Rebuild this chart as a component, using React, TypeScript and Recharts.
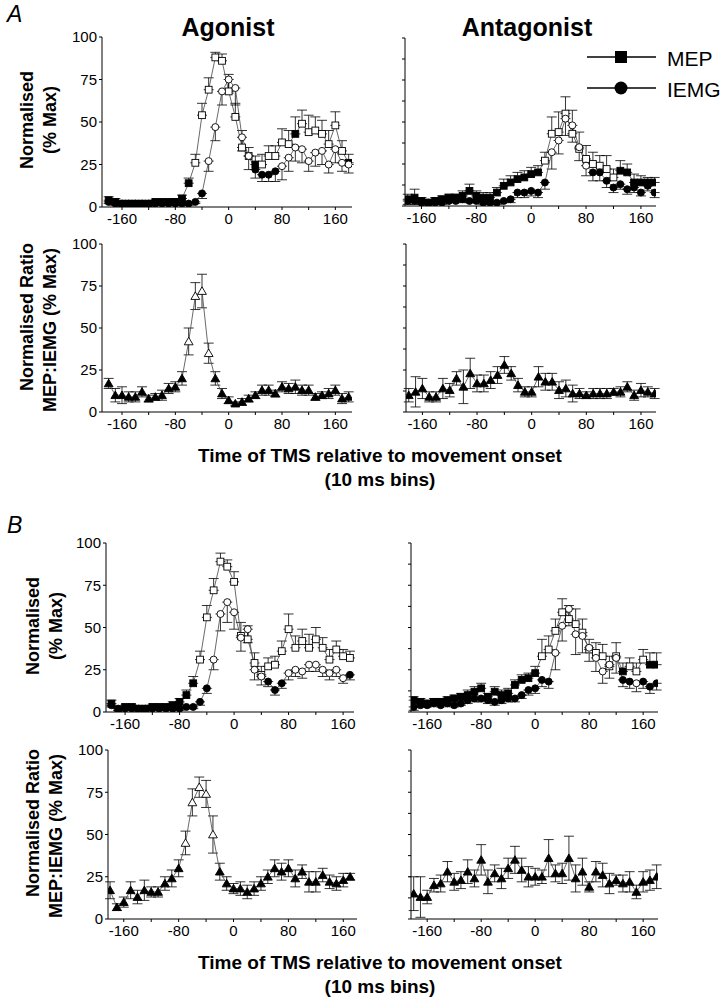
import React from 'react';
import { LineChart, Line, XAxis, YAxis, ErrorBar } from 'recharts';

const FONT = '"Liberation Sans", Arial, Helvetica, sans-serif';

// x categories (10 ms bins)
const X37 = [-180,-170,-160,-150,-140,-130,-120,-110,-100,-90,-80,-70,-60,-50,-40,-30,-20,-10,0,10,20,30,40,50,60,70,80,90,100,110,120,130,140,150,160,170,180];
const X36 = [-180,-170,-160,-150,-140,-130,-120,-110,-100,-90,-80,-70,-60,-50,-40,-30,-20,-10,0,10,20,30,40,50,60,70,80,90,100,110,120,130,140,150,160,170];
const X_TICKS = [-160,-120,-80,-40,0,40,80,120,160];

// ---------- A : Agonist ----------
const A_AGO_MEP = [4,3,2,2,2,2,2,3,3,3,3,5,14,26,54,69,88,86,68,53,35,30,25,25,30,30,38,37,43,49,44,45,43,37,48,33,26];
const A_AGO_MEP_ERR = [2,2,1,1,1,1,1,1,1,1,2,2,3,5,7,7,3,4,10,8,10,5,5,6,6,6,8,8,10,8,10,8,8,8,8,6,5];
const A_AGO_MEP_OPEN = [0,0,0,0,0,0,0,0,0,0,0,0,0,1,1,1,1,1,1,1,1,1,0,1,1,1,1,1,0,1,1,1,1,1,1,1,0];
const A_AGO_IEMG = [3,2,2,2,2,2,2,2,2,2,2,2,2,3,8,27,47,68,75,70,41,30,22,19,19,21,24,29,35,34,27,32,33,25,34,26,25];
const A_AGO_IEMG_ERR = [1,1,1,1,1,1,1,1,1,1,1,1,1,1,3,6,8,8,8,10,8,8,5,4,4,6,8,8,8,8,6,8,8,5,8,5,5];
const A_AGO_IEMG_OPEN = [0,0,0,0,0,0,0,0,0,0,0,0,0,0,0,1,1,1,1,1,1,1,0,0,0,0,1,1,1,1,1,1,1,1,1,1,1];

// ---------- A : Antagonist ----------
const A_ANT_MEP = [4,5,3,2,3,4,5,5,6,9,6,5,5,8,12,14,16,17,19,20,27,43,44,55,43,34,28,25,24,22,17,21,20,14,14,14,14];
const A_ANT_MEP_ERR = [3,5,2,2,2,2,2,2,3,4,3,3,3,3,4,4,4,4,4,4,5,10,12,10,14,10,8,7,6,8,5,6,5,5,4,3,3];
const A_ANT_MEP_OPEN = [0,0,0,0,0,0,0,0,0,0,0,0,0,0,0,0,0,0,0,0,1,1,1,1,1,1,1,1,1,1,1,0,0,0,0,0,0];
const A_ANT_IEMG = [3,3,2,2,2,2,3,3,4,3,3,2,2,2,3,4,8,8,9,8,14,32,39,52,48,35,24,20,20,15,11,13,10,11,8,12,8];
const A_ANT_IEMG_ERR = [2,2,1,1,1,1,1,1,2,1,1,1,1,1,1,2,3,3,3,3,4,10,8,10,10,8,6,5,5,4,3,3,3,3,2,3,3];
const A_ANT_IEMG_OPEN = [0,0,0,0,0,0,0,0,0,0,0,0,0,0,0,0,0,0,0,0,0,1,1,1,1,1,1,0,0,0,0,0,0,0,0,0,0];

// ---------- A : Ratios ----------
const A_AGO_RATIO = [17,10,10,9,9,12,8,9,10,14,15,20,42,69,72,35,20,11,7,5,6,8,10,13,13,11,15,14,15,13,13,9,10,11,13,8,9];
const A_AGO_RATIO_ERR = [3,4,5,3,3,3,2,2,3,3,3,4,8,8,10,6,4,3,2,1,2,2,2,3,3,2,3,3,4,3,3,2,2,3,3,3,3];
const A_AGO_RATIO_OPEN = [0,0,0,0,0,0,0,0,0,0,0,0,1,1,1,1,0,0,0,0,0,0,0,0,0,0,0,0,0,0,0,0,0,0,0,0,0];
const A_ANT_RATIO = [10,12,14,9,9,14,13,20,15,23,17,17,19,22,28,23,16,12,12,21,18,18,13,14,11,11,10,11,11,11,12,12,15,10,13,12,11];
const A_ANT_RATIO_ERR = [4,9,6,3,3,6,4,4,10,9,5,5,5,5,5,4,4,3,3,6,5,5,5,5,5,3,2,3,3,3,2,3,3,3,4,3,3];
const A_ANT_RATIO_OPEN = [0,0,0,0,0,0,0,0,0,0,0,0,0,0,0,0,0,0,0,0,0,0,0,0,0,0,0,0,0,0,0,0,0,0,0,0,0];

// ---------- B : Agonist ----------
const B_AGO_MEP = [5,1,3,3,2,2,3,3,3,4,6,10,17,31,56,72,89,86,77,45,43,29,22,27,28,36,49,38,42,38,43,38,31,37,33,32];
const B_AGO_MEP_ERR = [2,1,1,1,1,1,1,1,1,2,2,3,4,5,7,7,5,4,6,8,8,6,5,5,5,6,9,7,7,8,7,6,6,5,4,4];
const B_AGO_MEP_OPEN = [0,0,0,0,0,0,0,0,0,0,0,0,0,1,1,1,1,1,1,1,1,1,1,1,1,1,1,1,1,1,1,1,1,1,1,1];
const B_AGO_IEMG = [4,2,2,2,2,2,2,2,2,2,2,3,3,6,14,31,58,65,59,44,49,25,21,18,13,17,23,25,24,28,28,25,23,25,20,22];
const B_AGO_IEMG_ERR = [1,1,1,1,1,1,1,1,1,1,1,1,1,2,3,6,10,12,10,8,8,6,5,3,3,3,4,4,4,4,4,4,4,4,3,3];
const B_AGO_IEMG_OPEN = [0,0,0,0,0,0,0,0,0,0,0,0,0,0,0,1,1,1,1,1,1,1,1,0,0,0,1,1,1,1,1,1,1,1,1,0];

// ---------- B : Antagonist ----------
const B_ANT_MEP = [7,6,5,6,6,7,8,9,10,12,14,9,12,10,11,16,19,20,23,33,37,48,59,55,52,47,37,35,33,27,33,24,27,24,31,28,28];
const B_ANT_MEP_ERR = [2,2,2,2,2,2,2,2,3,3,3,2,3,3,3,3,3,3,4,10,8,7,8,8,9,8,6,6,7,6,8,5,5,5,6,7,7];
const B_ANT_MEP_OPEN = [0,0,0,0,0,0,0,0,0,0,0,0,0,0,0,0,0,0,0,1,1,1,1,1,1,1,1,1,1,1,1,0,1,1,1,0,0];
const B_ANT_IEMG = [3,4,4,5,4,5,4,5,7,8,8,7,6,7,8,8,10,13,14,19,18,35,51,61,46,45,38,32,24,28,32,19,18,17,18,15,17];
const B_ANT_IEMG_ERR = [2,1,1,1,1,1,1,1,2,2,2,2,2,2,2,2,2,3,3,4,4,10,9,10,12,10,8,8,7,8,9,4,4,5,4,4,4];
const B_ANT_IEMG_OPEN = [0,0,0,0,0,0,0,0,0,0,0,0,0,0,0,0,0,0,0,0,0,1,1,1,1,1,1,1,1,1,1,0,0,1,0,0,0];

// ---------- B : Ratios ----------
const B_AGO_RATIO = [17,7,10,17,13,17,16,16,21,24,30,45,69,78,74,50,28,21,18,18,16,18,21,25,30,28,30,24,28,22,22,26,22,21,23,25];
const B_AGO_RATIO_ERR = [5,2,3,5,4,6,3,3,4,5,5,7,8,6,8,11,5,4,3,4,4,4,4,4,5,5,5,5,4,6,6,4,4,4,4,2];
const B_AGO_RATIO_OPEN = [0,0,0,0,0,0,0,0,0,0,0,1,1,1,1,1,0,0,0,0,0,0,0,0,0,0,0,0,0,0,0,0,0,0,0,0];
const B_ANT_RATIO = [15,13,13,20,21,28,22,23,28,24,35,22,27,24,30,35,29,25,25,25,36,27,27,36,24,28,19,28,26,21,23,21,22,16,22,23,25];
const B_ANT_RATIO_ERR = [10,12,4,4,5,6,5,5,7,5,9,7,5,6,6,8,7,6,5,4,11,5,6,13,8,8,3,6,7,6,3,5,6,4,6,6,7];
const B_ANT_RATIO_OPEN = [0,0,0,0,0,0,0,0,0,0,0,0,0,0,0,0,0,0,0,0,0,0,0,0,0,0,0,0,0,0,0,0,0,0,0,0,0];

type Shape = 'square' | 'circle' | 'triangle';
type Dir = 'up' | 'down' | 'both';
type Series = { values: number[]; errs: number[]; open: number[]; shape: Shape; dir: Dir };

function buildRows(xs: number[], series: Series[]) {
  return xs.map((x, i) => {
    const row: any = { x };
    series.forEach((s, k) => {
      row[`v${k}`] = s.values[i];
      const e = s.errs[i];
      row[`e${k}`] = s.dir === 'up' ? [0, e] : s.dir === 'down' ? [e, 0] : [e, e];
      row[`o${k}`] = s.open[i];
    });
    return row;
  });
}

function makeDot(shape: Shape, k: number) {
  return (p: any) => {
    const { cx, cy, index, payload } = p;
    const key = `d${k}-${index}`;
    if (cx == null || cy == null || isNaN(cx) || isNaN(cy)) return <g key={key} />;
    const fill = payload && payload[`o${k}`] ? '#fff' : '#000';
    if (shape === 'square') {
      const h = 3.4;
      return <rect key={key} x={cx - h} y={cy - h} width={2 * h} height={2 * h} fill={fill} stroke="#000" strokeWidth={0.9} />;
    }
    if (shape === 'circle') {
      return <circle key={key} cx={cx} cy={cy} r={3.5} fill={fill} stroke="#000" strokeWidth={0.9} />;
    }
    const w = 4.4, h = 4.2;
    return <polygon key={key} points={`${cx},${cy - h} ${cx + w},${cy + h * 0.8} ${cx - w},${cy + h * 0.8}`} fill={fill} stroke="#000" strokeWidth={0.9} />;
  };
}

type PanelProps = {
  left: number; right: number; top: number; bottom: number;
  domain: [number, number]; xs: number[]; series: Series[]; yLabels: boolean;
};

function Panel({ left, right, top, bottom, domain, xs, series, yLabels }: PanelProps) {
  const rows = buildRows(xs, series);
  const ml = 5, yw = 40, mt = 10, mr = 10, xh = 30;
  const w = right - left + ml + yw + mr;
  const h = bottom - top + mt + xh;
  const tickStyle = { fill: '#000', fontSize: 15, fontFamily: FONT };
  return (
    <div style={{ position: 'absolute', left: left - ml - yw, top: top - mt }}>
      <LineChart width={w} height={h} data={rows} margin={{ top: mt, right: mr, bottom: 0, left: ml }}>
        <XAxis
          type="number" dataKey="x" domain={domain} allowDataOverflow
          ticks={X_TICKS} interval={0}
          tickFormatter={(v: number) => (v % 80 === 0 ? String(v) : '')}
          tick={tickStyle} tickSize={3} tickMargin={3} height={xh}
          axisLine={{ stroke: '#000', strokeWidth: 1 }} tickLine={{ stroke: '#000' }}
        />
        <YAxis
          type="number" domain={[0, 100]} allowDataOverflow width={yw}
          ticks={yLabels ? [0, 25, 50, 75, 100] : [0, 12.5, 25, 37.5, 50, 62.5, 75, 87.5, 100]}
          interval={0}
          tickFormatter={(v: number) => (yLabels ? String(v) : '')}
          tick={tickStyle} tickSize={3} tickMargin={2}
          axisLine={{ stroke: '#000', strokeWidth: 1 }} tickLine={{ stroke: '#000' }}
        />
        {series.map((s, k) => (
          <Line
            key={k} type="linear" dataKey={`v${k}`} stroke="#444" strokeWidth={0.8}
            dot={makeDot(s.shape, k)} activeDot={false} isAnimationActive={false}
          >
            <ErrorBar dataKey={`e${k}`} width={5} stroke="#000" strokeWidth={0.8} direction="y" />
          </Line>
        ))}
      </LineChart>
    </div>
  );
}

const mep = (values: number[], errs: number[], open: number[]): Series => ({ values, errs, open, shape: 'square', dir: 'up' });
const iemg = (values: number[], errs: number[], open: number[]): Series => ({ values, errs, open, shape: 'circle', dir: 'down' });
const ratio = (values: number[], errs: number[], open: number[]): Series => ({ values, errs, open, shape: 'triangle', dir: 'both' });

function Overlay() {
  const bold = { fontFamily: FONT, fontWeight: 700 as const, fill: '#000' };
  const rot = (x: number, y: number, t: string, size = 18) => (
    <text x={x} y={y} transform={`rotate(-90, ${x}, ${y})`} textAnchor="middle" dominantBaseline="central" fontSize={size} {...bold}>{t}</text>
  );
  const xTitle = (y: number) => (
    <g>
      <text x={380} y={y} textAnchor="middle" fontSize={19} {...bold}>Time of TMS relative to movement onset</text>
      <text x={380} y={y + 24} textAnchor="middle" fontSize={19} {...bold}>(10 ms bins)</text>
    </g>
  );
  return (
    <svg width={728} height={1005} style={{ position: 'absolute', left: 0, top: 0, pointerEvents: 'none' }}>
      <text x={7} y={22} fontSize={23} fontStyle="italic" fontFamily={FONT}>A</text>
      <text x={7} y={533} fontSize={23} fontStyle="italic" fontFamily={FONT}>B</text>
      <text x={228} y={36} textAnchor="middle" fontSize={25} {...bold}>Agonist</text>
      <text x={527} y={36} textAnchor="middle" fontSize={25} {...bold}>Antagonist</text>
      {/* legend */}
      <line x1={587} y1={57} x2={656} y2={57} stroke="#000" strokeWidth={1.5} />
      <rect x={615} y={51} width={12} height={12} fill="#000" />
      <line x1={587} y1={88} x2={656} y2={88} stroke="#000" strokeWidth={1.5} />
      <circle cx={621} cy={88} r={6.5} fill="#000" />
      <text x={667} y={66} fontSize={21} fontFamily={FONT}>MEP</text>
      <text x={667} y={97} fontSize={21} fontFamily={FONT}>IEMG</text>
      {/* y labels A */}
      {rot(27, 120, 'Normalised')}
      {rot(50, 120, '(% Max)')}
      {rot(27, 317, 'Normalised Ratio')}
      {rot(50, 330, 'MEP:IEMG (% Max)')}
      {/* y labels B */}
      {rot(33, 626, 'Normalised')}
      {rot(56, 626, '(% Max)')}
      {rot(33, 823, 'Normalised Ratio')}
      {rot(56, 836, 'MEP:IEMG (% Max)')}
      {xTitle(462)}
      {xTitle(969)}
    </svg>
  );
}

export default function App() {
  return (
    <div style={{ position: 'absolute', left: 0, top: 0, width: 728, height: 1005, background: '#fff', fontFamily: FONT }}>
      <Panel left={102} right={352} top={37} bottom={207} domain={[-190, 185]} xs={X37} yLabels
        series={[mep(A_AGO_MEP, A_AGO_MEP_ERR, A_AGO_MEP_OPEN), iemg(A_AGO_IEMG, A_AGO_IEMG_ERR, A_AGO_IEMG_OPEN)]} />
      <Panel left={405} right={656} top={38} bottom={206} domain={[-184, 182]} xs={X37} yLabels={false}
        series={[mep(A_ANT_MEP, A_ANT_MEP_ERR, A_ANT_MEP_OPEN), iemg(A_ANT_IEMG, A_ANT_IEMG_ERR, A_ANT_IEMG_OPEN)]} />
      <Panel left={102} right={352} top={244} bottom={412} domain={[-190, 185]} xs={X37} yLabels
        series={[ratio(A_AGO_RATIO, A_AGO_RATIO_ERR, A_AGO_RATIO_OPEN)]} />
      <Panel left={406} right={656} top={244} bottom={412} domain={[-184, 182]} xs={X37} yLabels={false}
        series={[ratio(A_ANT_RATIO, A_ANT_RATIO_ERR, A_ANT_RATIO_OPEN)]} />
      <Panel left={106} right={354} top={543} bottom={712} domain={[-188, 176]} xs={X36} yLabels
        series={[mep(B_AGO_MEP, B_AGO_MEP_ERR, B_AGO_MEP_OPEN), iemg(B_AGO_IEMG, B_AGO_IEMG_ERR, B_AGO_IEMG_OPEN)]} />
      <Panel left={411} right={658} top={543} bottom={712} domain={[-184, 182]} xs={X37} yLabels={false}
        series={[mep(B_ANT_MEP, B_ANT_MEP_ERR, B_ANT_MEP_OPEN), iemg(B_ANT_IEMG, B_ANT_IEMG_ERR, B_ANT_IEMG_OPEN)]} />
      <Panel left={108} right={357} top={750} bottom={919} domain={[-183, 180]} xs={X36} yLabels
        series={[ratio(B_AGO_RATIO, B_AGO_RATIO_ERR, B_AGO_RATIO_OPEN)]} />
      <Panel left={411} right={658} top={750} bottom={919} domain={[-184, 182]} xs={X37} yLabels={false}
        series={[ratio(B_ANT_RATIO, B_ANT_RATIO_ERR, B_ANT_RATIO_OPEN)]} />
      <Overlay />
    </div>
  );
}
